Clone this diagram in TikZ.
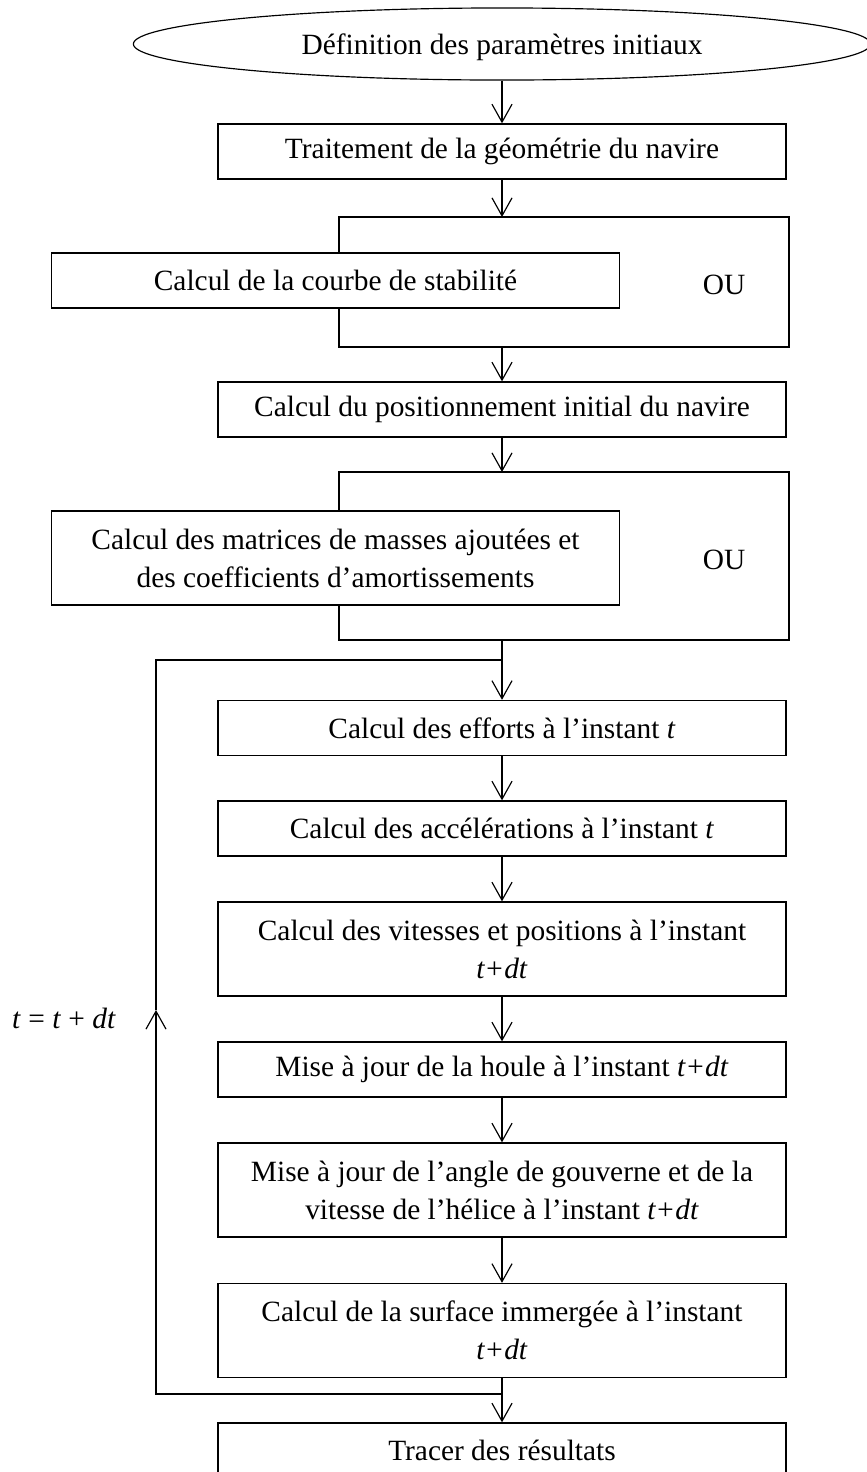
\documentclass[tikz,border=0pt]{standalone}
\usepackage{fontspec}
\setmainfont{Liberation Serif}
\usetikzlibrary{arrows.meta,shapes.geometric}
\begin{document}
\begin{tikzpicture}[x=0.4286pt,y=-0.4286pt,line width=0.5pt,
  font=\fontsize{12.6pt}{16.3pt}\selectfont,
  box/.style={draw,line width=0.55pt,align=center,inner sep=0pt,minimum width=243.4pt,minimum height=23.6pt},
  tallbox/.style={box,minimum height=40.3pt},
  arr/.style={-{Straight Barb[length=7.7pt,width=8.6pt]}}]
\useasboundingbox (0,0) rectangle (867,1472);

\node[draw,ellipse,inner sep=0pt,minimum width=316pt,minimum height=30.9pt] (init) at (502,44) {};
\node (initt) at (502,47) {Définition des paramètres initiaux};

\node[box] (trait) at (502,151.5) {Traitement de la géométrie du navire};
\node[box] (stab) at (335.5,280.5) {Calcul de la courbe de stabilité};
\node (ou1) at (724,285) {OU};
\node[box] (posinit) at (502,409.5) {Calcul du positionnement initial du navire};
\node[tallbox] (masses) at (335.5,558) {Calcul des matrices de masses ajoutées et\\des coefficients d’amortissements};
\node (ou2) at (724,560) {OU};

\node[box] (efforts) at (502,728) {Calcul des efforts à l’instant \textit{t}};
\node[box] (accel) at (502,828.5) {Calcul des accélérations à l’instant \textit{t}};
\node[tallbox] (vit) at (502,949) {Calcul des vitesses et positions à l’instant\\\textit{t+dt}};
\node[box] (houle) at (502,1069.5) {Mise à jour de la houle à l’instant \textit{t+dt}};
\node[tallbox] (gouv) at (502,1190) {Mise à jour de l’angle de gouverne et de la\\vitesse de l’hélice à l’instant \textit{t+dt}};
\node[tallbox] (surf) at (502,1330.5) {Calcul de la surface immergée à l’instant\\\textit{t+dt}};
\node[box] (trace) at (502,1450.5) {Tracer des résultats};

\node (dt) at (64,1018) {\textit{t} = \textit{t} + \textit{dt}};

\coordinate (a1) at (502,217);
\coordinate (a1l) at (339,217);
\coordinate (a1r) at (789,217);
\coordinate (a2) at (502,347);
\coordinate (a2l) at (339,347);
\coordinate (a2r) at (789,347);
\coordinate (b1) at (502,472);
\coordinate (b1l) at (339,472);
\coordinate (b1r) at (789,472);
\coordinate (b2) at (502,640);
\coordinate (b2l) at (339,640);
\coordinate (b2r) at (789,640);
\coordinate (lt) at (156,660);
\coordinate (ltj) at (502,660);
\coordinate (lm) at (156,1010);
\coordinate (lb) at (156,1394);
\coordinate (lbj) at (502,1394);

\draw[arr] (init) -- (trait);
\draw[arr] (trait) -- (a1);
\draw (stab.north -| a1l) -- (a1l) -- (a1r) -- (a2r) -- (a2l) -- (stab.south -| a2l);
\draw[arr] (a2) -- (posinit);
\draw[arr] (posinit) -- (b1);
\draw (masses.north -| b1l) -- (b1l) -- (b1r) -- (b2r) -- (b2l) -- (masses.south -| b2l);
\draw[arr] (b2) -- (efforts);
\draw[arr] (efforts) -- (accel);
\draw[arr] (accel) -- (vit);
\draw[arr] (vit) -- (houle);
\draw[arr] (houle) -- (gouv);
\draw[arr] (gouv) -- (surf);
\draw[arr] (surf) -- (trace);

\draw[arr] (lbj) -- (lb) -- (lm);
\draw (lm) -- (lt) -- (ltj);
\end{tikzpicture}
\end{document}
